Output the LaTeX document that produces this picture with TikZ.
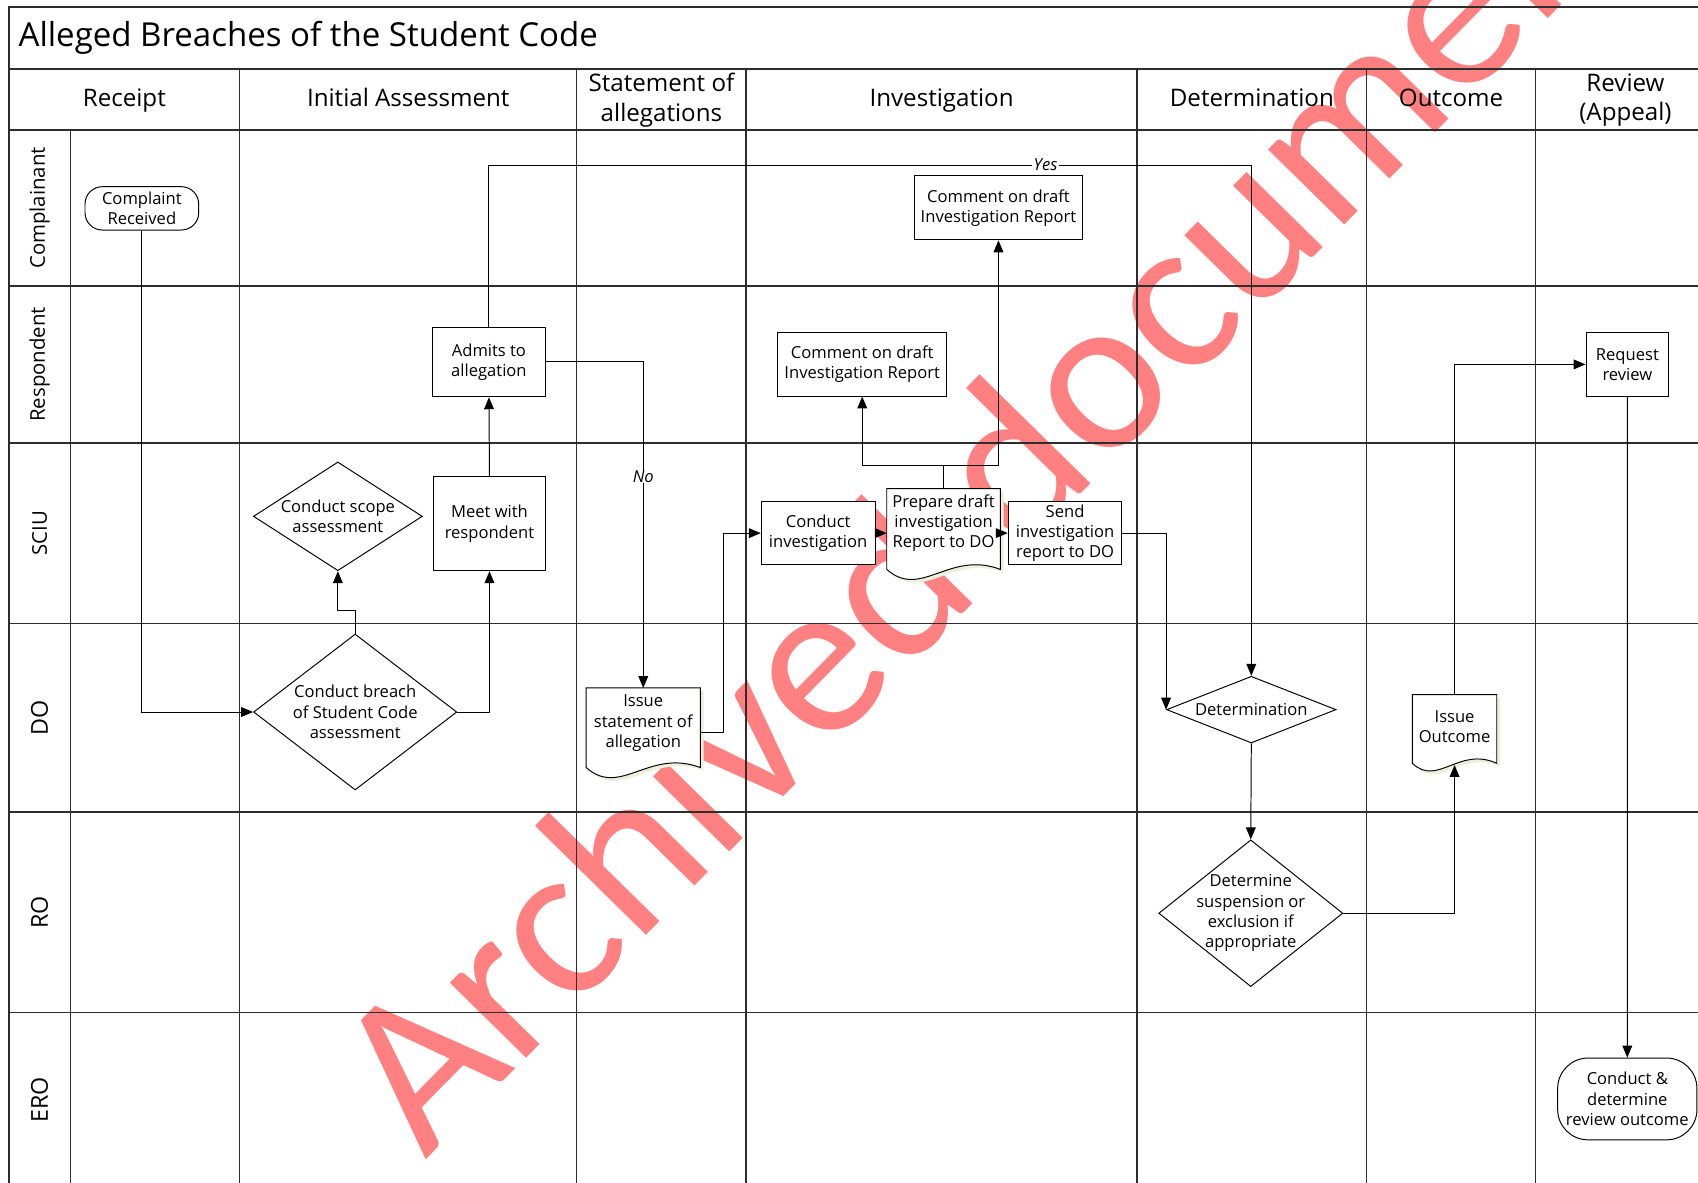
\documentclass[tikz,border=0pt]{standalone}
\usepackage{fontspec}
\setmainfont{Open Sans}
\newfontfamily\wmfont{Carlito}
\usetikzlibrary{arrows.meta,shapes.geometric,calc}
\definecolor{wmred}{RGB}{255,128,128}
\definecolor{docshade}{RGB}{236,240,218}
\definecolor{gridcol}{RGB}{45,45,45}
\newcommand\ndfont{\fontsize{15.3}{18.8}\selectfont}
\newcommand\hdfont{\fontsize{22.3}{27}\selectfont}
\newcommand\ttlfont{\fontsize{30.5}{36}\selectfont}
\newcommand\lnfontA{\fontsize{18.8}{22}\selectfont}
\newcommand\lnfontB{\fontsize{21.5}{25}\selectfont}
\newcommand\wmsize{\fontsize{207}{207}\selectfont}
\pgfdeclarelayer{wmlayer}
\pgfdeclarelayer{gridlayer}
\pgfdeclarelayer{doclayer}
\pgfsetlayers{wmlayer,gridlayer,doclayer,main}
% #1 style, #2 node, #3 corner depth, #4 a1, #5 a2, #6 dx, #7 dy
\newcommand\docdraw[7]{%
  \path[#1] ($(#2.north west)+(#6,#7)$) -- ($(#2.north west)+(#6,#7+#3)$)
    .. controls ($(#2.north west)!0.3!(#2.north east)+(#6,#7+#3+#4)$)
    and ($(#2.north west)!0.55!(#2.north east)+(#6,#7+#3-#5)$)
    .. ($(#2.north east)+(#6,#7+#3)$) -- ($(#2.north east)+(#6,#7)$) -- cycle;}
\newcommand\docoutline[4]{%
  \begin{pgfonlayer}{doclayer}
    \docdraw{fill=docshade}{#1}{#2}{#3}{#4}{3}{3}
    \docdraw{docline}{#1}{#2}{#3}{#4}{0}{0}
  \end{pgfonlayer}}
\begin{document}
\begin{tikzpicture}[x=1pt,y=-1pt,
  gridline/.style={line width=1.3pt, draw=gridcol},
  conn/.style={line width=0.9pt, draw=black},
  arr/.style={conn, -{Triangle[length=11pt,width=9pt]}},
  ndtext/.style={font=\ndfont, align=center, inner sep=0pt},
  boxnode/.style={ndtext, draw=black, line width=0.9pt, fill=white, rectangle},
  termnode/.style={boxnode},
  dianode/.style={diamond, draw=black, line width=0.9pt, fill=white, inner sep=0pt},
  docnode/.style={ndtext, rectangle},
  docline/.style={draw=black, line width=0.9pt, fill=white},
  lbl/.style={font={\ndfont\itshape}, fill=white, inner xsep=1.5pt, inner ysep=0pt},
  hdr/.style={font=\hdfont, align=center, inner sep=0pt},
  hdrone/.style={hdr, anchor=base},
  lane/.style={rotate=90, inner sep=0pt},
  wmstyle/.style={font={\wmfont\wmsize}, text=wmred, anchor=base west, rotate=45.5, inner sep=0pt}
]
\useasboundingbox (0,0) rectangle (1568,1092.4);

% watermark
\begin{pgfonlayer}{wmlayer}
  \node[wmstyle] (wmark) at (393,1072) {Archived document};
\end{pgfonlayer}

% swimlane grid
\begin{pgfonlayer}{gridlayer}
  \draw[gridline] (1568,6.5) -- (8.2,6.5) -- (8.2,1092.4);
  \foreach \yy in {63.7,120,264,409,576,750,935}
    \draw[gridline] (8.2,\yy) -- (1568,\yy);
  \draw[gridline] (65,120) -- (65,1092.4);
  \foreach \xx in {221.4,532.6,689,1050,1262,1418}
    \draw[gridline] (\xx,63.7) -- (\xx,1092.4);
\end{pgfonlayer}

% title and headers
\node[anchor=base west, font=\ttlfont, inner sep=0pt] (title) at (17,43.2) {Alleged Breaches of the Student Code};
\node[hdrone] (hRec) at (114.8,98.7) {Receipt};
\node[hdrone] (hIni) at (377,98.7) {Initial Assessment};
\node[hdr] (hSta) at (610.8,92.6) {Statement of\\allegations};
\node[hdrone] (hInv) at (869.5,98.7) {Investigation};
\node[hdrone] (hDet) at (1156,98.7) {Determination};
\node[hdrone] (hOut) at (1340,98.7) {Outcome};
\node[hdr] (hRev) at (1501,92.6) {Review\\(Appeal)};

% lane labels
\node[lane, font=\lnfontA] (lComp) at (36.6,192) {Complainant};
\node[lane, font=\lnfontA] (lResp) at (36.6,336.5) {Respondent};
\node[lane, font=\lnfontA] (lSciu) at (36.6,492.5) {SCIU};
\node[lane, font=\lnfontB] (lDo) at (36.6,663) {DO};
\node[lane, font=\lnfontB] (lRo) at (36.6,842.5) {RO};
\node[lane, font=\lnfontB] (lEro) at (36.6,1015.5) {ERO};

% process nodes
\node[termnode, rounded corners=16pt, minimum width=105pt, minimum height=40pt] (compl) at (131,192.4) {Complaint\\Received};
\node[dianode, minimum width=187.7pt, minimum height=144pt,
  label={[ndtext,name=breachT]center:Conduct breach\\of Student Code\\assessment}] (breach) at (328,657.5) {};
\node[dianode, minimum width=156pt, minimum height=100.4pt,
  label={[ndtext,name=scopeT]center:Conduct scope\\assessment}] (scope) at (312,476.8) {};
\node[boxnode, minimum width=104pt, minimum height=87pt] (meet) at (452,483.5) {Meet with\\respondent};
\node[boxnode, minimum width=105pt, minimum height=64.5pt] (admits) at (451.5,334.2) {Admits to\\allegation};
\node[docnode, minimum width=105pt, minimum height=65pt] (stmt) at (594,668) {Issue\\statement of\\allegation};
\docoutline{stmt}{73.5}{28}{18}
\node[boxnode, minimum width=105pt, minimum height=58.7pt] (cinv) at (755.5,492.3) {Conduct\\investigation};
\node[docnode, minimum width=104.5pt, minimum height=63pt] (prep) at (871.3,483) {Prepare draft\\investigation\\Report to DO};
\docoutline{prep}{74.5}{28}{18}
\node[boxnode, minimum width=105pt, minimum height=58.7pt] (send) at (983.5,492.3) {Send\\investigation\\report to DO};
\node[boxnode, minimum width=156.5pt, minimum height=59pt] (commR) at (796.2,336.2) {Comment on draft\\Investigation Report};
\node[boxnode, minimum width=156pt, minimum height=59pt] (commC) at (922,192) {Comment on draft\\Investigation Report};
\node[dianode, minimum width=156.5pt, minimum height=61.6pt,
  label={[ndtext,name=determT]center:Determination}] (determ) at (1155.5,655.3) {};
\node[dianode, minimum width=170pt, minimum height=135.5pt,
  label={[ndtext,name=suspendT]center:Determine\\suspension or\\exclusion if\\appropriate}] (suspend) at (1155,843.3) {};
\node[docnode, minimum width=77.5pt, minimum height=59pt] (outc) at (1343.2,671.1) {Issue\\Outcome};
\docoutline{outc}{63.5}{22}{16}
\node[boxnode, minimum width=76.5pt, minimum height=59.7pt] (req) at (1502.8,336.5) {Request\\review};
\node[termnode, rounded corners=28pt, minimum width=128.6pt, minimum height=75.5pt] (revout) at (1502.7,1014.8) {Conduct \&\\determine\\review outcome};

% helper coordinates
\coordinate (yesrow) at (0,152.4);
\coordinate (jrow) at (0,429.4);
\coordinate (stmtR) at ($(stmt.north east)+(0,41.3)$);
\coordinate (outcB) at ($(outc.north)+(0,65)$);

% connectors
\draw[arr] (compl.south) |- (breach.west);
\draw[arr] (breach.north) -- ++(0,-21.5) -| (scope.south);
\draw[arr] (breach.east) -| (meet.south);
\draw[arr] (meet.north) -- (admits.south);
\draw[arr] (admits.north) -- (admits.north |- yesrow) -| (determ.north);
\draw[arr] (admits.east) -| (stmt.north);
\draw[arr] (stmtR) -- ++(21.3,0) |- (cinv.west);
\draw[arr] (cinv.east) -- (cinv.east -| prep.west);
\draw[arr] (send.west -| prep.east) -- (send.west);
\draw[conn] (prep.north) -- (prep.north |- jrow);
\draw[arr] (prep.north |- jrow) -| (commR.south);
\draw[arr] (prep.north |- jrow) -| (commC.south);
\draw[arr] (send.east) -| (determ.west);
\draw[arr] (determ.south) -- (suspend.north);
\draw[arr] (suspend.east) -| (outcB);
\draw[arr] (outc.north) |- (req.west);
\draw[arr] (req.south) -- (revout.north);
\node[lbl] (yes) at (965.5,152.4) {Yes};
\node[lbl] (no) at (594,440.5) {No};
\end{tikzpicture}
\end{document}
